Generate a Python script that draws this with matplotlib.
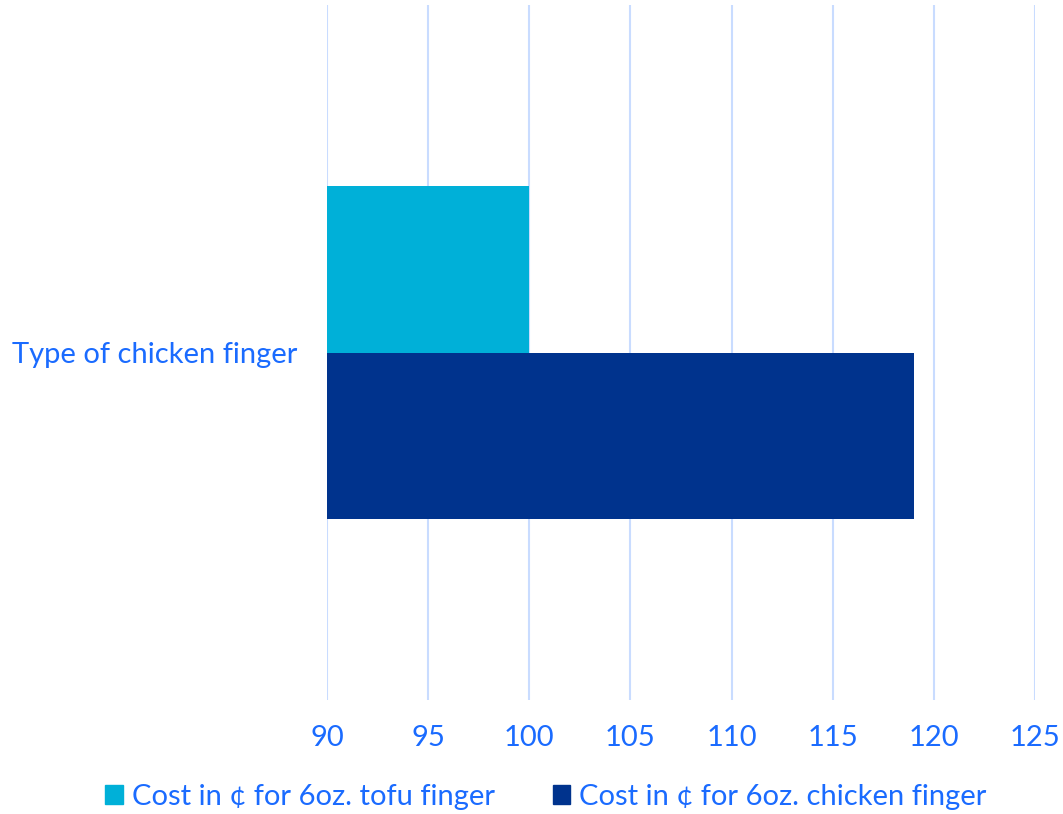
import matplotlib.pyplot as plt
from matplotlib.patches import Patch

# values in cents
category = ["Type of chicken finger"]
series_names = ["Cost in ¢ for 6oz. tofu finger", "Cost in ¢ for 6oz. chicken finger"]
tofu_cost = [100]
chicken_cost = [119]
x_ticks = [90, 95, 100, 105, 110, 115, 120, 125]

text_color = "#1a6bff"
colors = ["#00b0d8", "#00338d"]
grid_color = "#c9dcff"

plt.rcParams['font.family'] = ['Lato', 'DejaVu Sans']
fs = 21

fig = plt.figure(figsize=(10.63, 8.14), dpi=100)
ax = fig.add_axes([327 / 1063, 1 - 700 / 814, (1035 - 327) / 1063, 695 / 814])

h = 0.239
ax.barh([0 + h / 2], [v - 90 for v in tofu_cost], left=90, height=h, color=colors[0])
ax.barh([0 - h / 2], [v - 90 for v in chicken_cost], left=90, height=h, color=colors[1])

ax.set_xlim(90, 125)
ax.set_ylim(-0.5, 0.5)
ax.set_xticks(x_ticks)
ax.set_yticks([0])
ax.set_yticklabels(category)
ax.tick_params(axis='both', length=0, colors=text_color, labelsize=fs)
ax.tick_params(axis='x', pad=18)
ax.tick_params(axis='y', pad=21)
ax.grid(axis='x', color=grid_color, linewidth=1.5)
ax.set_axisbelow(True)
for s in ax.spines.values():
    s.set_visible(False)

handles = [Patch(color=c) for c in colors]
leg = fig.legend(handles, series_names, loc='center', bbox_to_anchor=(546 / 1063, 1 - 797 / 814),
                 ncol=2, frameon=False, handlelength=0.6, handleheight=0.6, handletextpad=0.3,
                 columnspacing=2.0, fontsize=fs)
for t in leg.get_texts():
    t.set_color(text_color)

fig.savefig("out.png", dpi=100)
